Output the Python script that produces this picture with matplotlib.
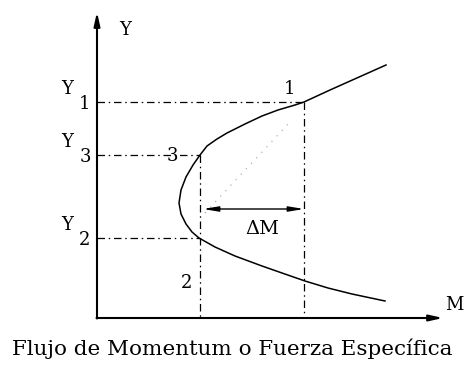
import numpy as np
import matplotlib.pyplot as plt

plt.rcParams['font.family'] = ['DejaVu Serif']

# specific force curve (M, Y), read point by point
curve_m = [28.9, 23.3, 20.7, 19.8, 18.1, 16.5, 14.8, 13.0, 12.0, 11.0, 10.3,
           9.6, 8.9, 8.4, 8.2, 8.4, 8.9, 9.5, 10.2,
           11.8, 13.8, 16.5, 18.5, 20.8, 23.1, 25.5, 28.8]
curve_y = [25.3, 22.8, 21.6, 21.3, 20.8, 20.2, 19.4, 18.5, 17.9, 17.2, 16.3,
           15.3, 14.1, 12.8, 11.5, 10.4, 9.4, 8.6, 8.0,
           7.1, 6.2, 5.2, 4.5, 3.7, 3.0, 2.4, 1.7]

# states 1, 3, 2
y1, y3, y2 = 21.6, 16.3, 8.0
m1, m3, m2 = 20.7, 10.3, 10.3
dm_level = 10.9

m_axis_end = 34.6
y_axis_end = 30.6

fig = plt.figure(figsize=(4.69, 3.67), dpi=100)
ax = fig.add_axes([0, 0, 1, 1])
ax.set_xlim(-9.7, 37.2)
ax.set_ylim(-4.9, 31.8)
ax.set_axis_off()

# axes with arrows
ax.annotate('', xy=(0, y_axis_end), xytext=(0, -0.05),
            arrowprops=dict(arrowstyle='-|>,head_length=0.8,head_width=0.18',
                            color='black', lw=1.5, shrinkA=0, shrinkB=0))
ax.annotate('', xy=(m_axis_end, 0), xytext=(-0.05, 0),
            arrowprops=dict(arrowstyle='-|>,head_length=0.8,head_width=0.18',
                            color='black', lw=1.5, shrinkA=0, shrinkB=0))

# guide lines
dd = dict(color='black', lw=0.9, dashes=(6, 3, 1.2, 3))
ax.plot([0, m1], [y1, y1], **dd)
ax.plot([m1, m1], [y1, 0], **dd)
ax.plot([0, m3], [y3, y3], **dd)
ax.plot([0, m2], [y2, y2], **dd)
ax.plot([m3, m3], [y3, 0], **dd)

# faint dotted line between 3 and 1
ax.plot([10.8, 19.3], [10.5, 19.6], color='#b0b0b0', lw=0.9, ls=(0, (1, 5)))

ax.plot(curve_m, curve_y, color='black', lw=1.1)

# delta M arrow
ax.annotate('', xy=(m3 + 0.3, dm_level), xytext=(m1, dm_level),
            arrowprops=dict(arrowstyle='<|-|>,head_length=0.9,head_width=0.15',
                            color='black', lw=1.0, shrinkA=0, shrinkB=0))
ax.text(16.5, dm_level - 1.1, 'ΔM', fontsize=14, ha='center', va='top')

fs = 13
ax.text(2.2, 28.8, 'Y', fontsize=fs, ha='left', va='center')
for lab, yy, sub in [('Y', y1, '1'), ('Y', y3, '3'), ('Y', y2, '2')]:
    ax.text(-3.0, yy + 1.3, lab, fontsize=fs, ha='center', va='center')
    ax.text(-1.2, yy - 0.2, sub, fontsize=fs, ha='center', va='center')

ax.text(m1 - 1.5, y1 + 1.3, '1', fontsize=fs, ha='center', va='center')
ax.text(m3 - 2.8, y3 - 0.1, '3', fontsize=fs, ha='center', va='center')
ax.text(m2 - 1.3, 3.5, '2', fontsize=fs, ha='center', va='center')
ax.text(m_axis_end + 0.2, 1.3, 'M', fontsize=fs, ha='left', va='center')

ax.text(13.5, -3.1, 'Flujo de Momentum o Fuerza Específica', fontsize=15.4,
        ha='center', va='center')

fig.savefig('out.png', dpi=100)
